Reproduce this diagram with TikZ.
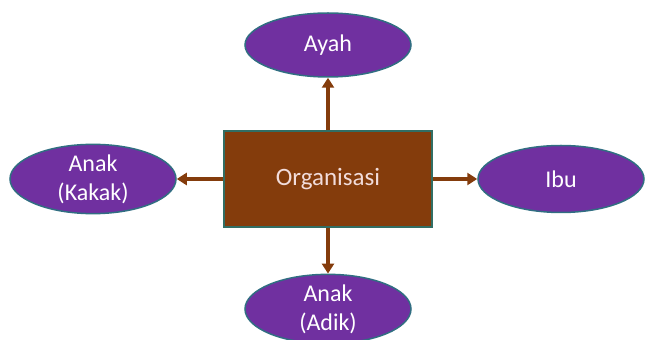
\documentclass[tikz,border=0pt]{standalone}
\usepackage{fontspec}
\setmainfont{Carlito}
\usetikzlibrary{shapes.geometric,arrows.meta}
\definecolor{boxbrown}{RGB}{132,60,12}
\definecolor{boxedge}{RGB}{49,110,100}
\definecolor{ellpurple}{RGB}{112,48,160}
\definecolor{elledge}{RGB}{49,110,130}
\definecolor{arrbrown}{RGB}{132,60,12}
\definecolor{boxtext}{RGB}{242,220,219}
\begin{document}
\begin{tikzpicture}[x=1pt,y=1pt,
  centerbox/.style={draw=boxedge, line width=1.5pt, fill=boxbrown, minimum width=208pt, minimum height=96pt, text=boxtext, font=\fontsize{25}{28}\selectfont, inner sep=0pt},
  member/.style={ellipse, draw=elledge, line width=1.5pt, fill=ellpurple, minimum width=166pt, minimum height=64pt, text=white, font=\fontsize{24}{29}\selectfont, align=center, inner sep=0pt},
  link/.style={draw=arrbrown, line width=3.5pt, -{Triangle[length=10pt,width=12pt]}}]
\useasboundingbox (0,0) rectangle (649,340);
\node[centerbox] (org) at (328,161) {Organisasi};
\node[member] (ayah) at (328,295) {Ayah};
\node[member, minimum height=69pt] (kakak) at (93,161) {Anak\\(Kakak)};
\node[member, minimum height=67pt] (ibu) at (561,161) {Ibu};
\node[member] (adik) at (328,31) {Anak\\(Adik)};
\draw[link] (org.north) -- (ayah.south);
\draw[link] (org.west) -- (kakak.east);
\draw[link] (org.east) -- (ibu.west);
\draw[link] (org.south) -- (adik.north);
\end{tikzpicture}
\end{document}
